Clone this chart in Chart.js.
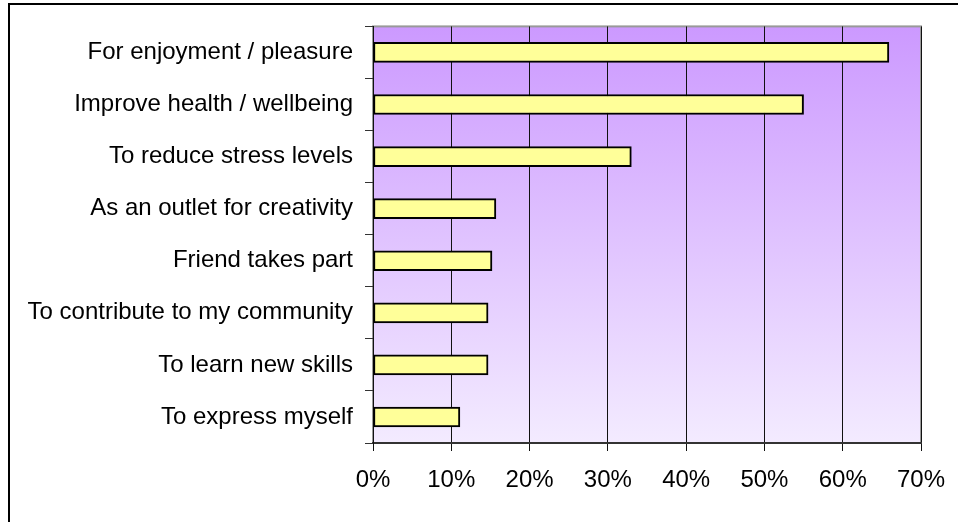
<!DOCTYPE html>
<html>
<head>
<meta charset="utf-8">
<script src="https://cdn.jsdelivr.net/npm/chart.js@4/dist/chart.umd.min.js"></script>
<style>
  html, body { margin: 0; padding: 0; background: #fff; overflow: hidden; }
  #wrap { position: relative; width: 958px; height: 522px; }
  /* frame around the whole chart, runs off the right and bottom edges */
  #frame { position: absolute; left: 8px; top: 3px; width: 1000px; height: 600px; border: 2px solid #000; }
  #chart { position: absolute; left: 0; top: 0; }
</style>
</head>
<body>
<div id="wrap">
  <div id="frame"></div>
  <canvas id="chart" width="958" height="522"></canvas>
</div>
<script>
// reasons for taking part, share of respondents (%)
const categories = [
  'For enjoyment / pleasure',
  'Improve health / wellbeing',
  'To reduce stress levels',
  'As an outlet for creativity',
  'Friend takes part',
  'To contribute to my community',
  'To learn new skills',
  'To express myself'
];
const percents = [65.9, 55.0, 33.0, 15.7, 15.2, 14.7, 14.7, 11.1];
const xTicks = [0, 10, 20, 30, 40, 50, 60, 70];

const FONT = "'Liberation Sans', Arial, Helvetica, sans-serif";

// purple-to-lavender fill behind the bars, with a grey frame on the plot area
const plotBackground = {
  id: 'plotBackground',
  beforeDraw(chart) {
    const { ctx, chartArea: a } = chart;
    const g = ctx.createLinearGradient(0, a.top, 0, a.bottom);
    g.addColorStop(0, '#cc99ff');
    g.addColorStop(1, '#f3ebff');
    ctx.save();
    ctx.fillStyle = g;
    ctx.fillRect(a.left, a.top, a.right - a.left, a.bottom - a.top);
    ctx.strokeStyle = '#999';
    ctx.lineWidth = 2;
    ctx.strokeRect(a.left, a.top, a.right - a.left, a.bottom - a.top);
    ctx.restore();
  }
};

new Chart(document.getElementById('chart'), {
  type: 'bar',
  data: {
    labels: categories,
    datasets: [{
      data: percents,
      backgroundColor: '#ffff99',
      borderColor: '#000',
      borderWidth: 2,
      borderSkipped: false,
      barThickness: 20
    }]
  },
  options: {
    indexAxis: 'y',
    responsive: false,
    devicePixelRatio: 1,
    animation: false,
    layout: { padding: { top: 24, right: 37, left: 0, bottom: 0 } },
    plugins: { legend: { display: false }, tooltip: { enabled: false } },
    scales: {
      x: {
        min: 0,
        max: 70,
        afterBuildTicks(scale) { scale.ticks = xTicks.map(v => ({ value: v })); },
        afterFit(scale) {
          scale.height = 79;
          // the outer labels may hang past the plot edges
          scale.paddingLeft = 0;
          scale.paddingRight = 0;
        },
        border: { color: '#333', width: 2 },
        grid: { color: '#111', lineWidth: 1, tickLength: 8, tickColor: '#111' },
        ticks: {
          padding: 15,
          color: '#000',
          font: { family: FONT, size: 24 },
          callback: v => v + '%'
        }
      },
      y: {
        afterFit(scale) { scale.width = 373; },
        border: { color: '#111', width: 1 },
        grid: { drawOnChartArea: false, tickLength: 8, tickColor: '#333', offset: true },
        ticks: {
          padding: 12,
          color: '#000',
          font: { family: FONT, size: 24 }
        }
      }
    }
  },
  plugins: [plotBackground]
});
</script>
</body>
</html>
